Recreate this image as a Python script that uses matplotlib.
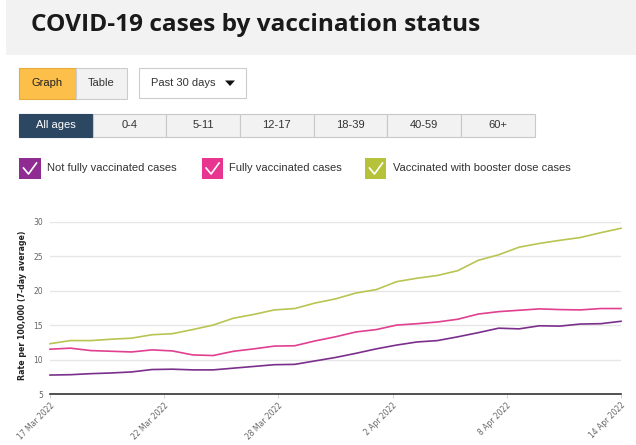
import matplotlib
matplotlib.use("Agg")
import matplotlib.pyplot as plt
from matplotlib.patches import Rectangle, Polygon
from matplotlib.lines import Line2D
import numpy as np

# ---------------- data ----------------
title = "COVID-19 cases by vaccination status"
series_names = ["Not fully vaccinated cases", "Fully vaccinated cases",
                "Vaccinated with booster dose cases"]
not_fully = [7.75, 7.8, 7.95, 8.05, 8.2, 8.55, 8.6, 8.5, 8.5, 8.75, 9.0, 9.25, 9.3, 9.8,
             10.3, 10.9, 11.55, 12.1, 12.55, 12.75, 13.3, 13.9, 14.55, 14.45, 14.9,
             14.85, 15.15, 15.2, 15.55]
fully = [11.5, 11.65, 11.3, 11.2, 11.1, 11.4, 11.25, 10.67, 10.58, 11.2, 11.55, 11.95,
         12.0, 12.7, 13.3, 14.0, 14.35, 15.0, 15.2, 15.45, 15.85, 16.6, 16.95, 17.15,
         17.35, 17.25, 17.2, 17.4, 17.4]
booster = [12.3, 12.75, 12.75, 12.95, 13.1, 13.6, 13.75, 14.35, 15.0, 16.0, 16.55, 17.2,
           17.4, 18.2, 18.8, 19.65, 20.15, 21.3, 21.8, 22.2, 22.9, 24.4, 25.2, 26.3,
           26.85, 27.3, 27.7, 28.4, 29.05]
days = list(range(29))  # 17 Mar 2022 .. 14 Apr 2022
x_tick_labels = ["17 Mar 2022", "22 Mar 2022", "28 Mar 2022", "2 Apr 2022",
                 "8 Apr 2022", "14 Apr 2022"]
y_ticks = [5, 10, 15, 20, 25, 30]
view_buttons = ["Graph", "Table"]
period_label = "Past 30 days"
age_groups = ["All ages", "0-4", "5-11", "12-17", "18-39", "40-59", "60+"]
colors = ["#7b2f8c", "#e0408f", "#b9c452"]
box_colors = ["#8e2c92", "#e8358f", "#b5c23a"]

# ---------------- figure ----------------
W, H = 636, 445
fig = plt.figure(figsize=(W / 100, H / 100), dpi=100)
fig.patch.set_facecolor("white")
TF = fig.transFigure


def fx(x):
    return x / W


def fy(y):
    return 1 - y / H


def rect(x0, y0, x1, y1, fc, ec="none", lw=0.8):
    fig.patches.append(Rectangle((fx(x0), fy(y1)), fx(x1) - fx(x0), fy(y0) - fy(y1),
                                 transform=TF, facecolor=fc, edgecolor=ec, linewidth=lw))


ui_font = ["Liberation Sans", "DejaVu Sans"]
ui_size = 8.0

# title band
rect(6, 0, 636, 55, "#f2f2f2")
fig.text(fx(31), fy(25), title, fontsize=17.6, fontweight="bold", color="#1a1a1a",
         family=["Open Sans", "DejaVu Sans"], va="center", ha="left")

# view buttons
rect(19, 68, 75.5, 99, "#fcbf49", ec="#e6ab3c")
fig.text(fx(47), fy(83.5), view_buttons[0], fontsize=ui_size, color="#222222",
         family=ui_font, ha="center", va="center")
rect(75.5, 68, 126.5, 99, "#f2f2f2", ec="#cccccc")
fig.text(fx(101), fy(83.5), view_buttons[1], fontsize=ui_size, color="#333333",
         family=ui_font, ha="center", va="center")
rect(139, 68, 245.5, 98, "white", ec="#cccccc")
fig.text(fx(151), fy(83.5), period_label, fontsize=ui_size, color="#333333",
         family=ui_font, ha="left", va="center")
fig.patches.append(Polygon([(fx(225), fy(80.5)), (fx(235), fy(80.5)), (fx(230), fy(86))],
                           closed=True, transform=TF, facecolor="#111111", edgecolor="none"))

# age buttons
edges = [19, 92.5, 166.3, 239.8, 313.6, 387.4, 461.3, 534.7]
for i, lab in enumerate(age_groups):
    if i == 0:
        rect(edges[i], 114, edges[i + 1], 137, "#2c4762", ec="#2c4762")
        tc = "white"
    else:
        rect(edges[i], 114, edges[i + 1], 137, "#f2f2f2", ec="#c8c8c8")
        tc = "#333333"
    fig.text(fx((edges[i] + edges[i + 1]) / 2), fy(125.5), lab, fontsize=ui_size, color=tc,
             family=ui_font, ha="center", va="center")

# legend
leg_box_x = [19, 201.6, 365]
leg_text_x = [46.7, 229, 392.7]
for bx, tx, name, bc in zip(leg_box_x, leg_text_x, series_names, box_colors):
    rect(bx, 158, bx + 21.5, 179, bc)
    fig.lines.append(Line2D([fx(bx + 4.5), fx(bx + 9.5), fx(bx + 17.5)],
                            [fy(168), fy(174), fy(163)], transform=TF, color="white",
                            linewidth=1.2))
    fig.text(fx(tx), fy(168), name, fontsize=ui_size, color="#333333", family=ui_font,
             ha="left", va="center")

# ---------------- chart ----------------
ax = fig.add_axes([fx(50), fy(394), fx(621) - fx(50), fy(221.7) - fy(394)])
for vals, c in zip([not_fully, fully, booster], colors):
    ax.plot(days, vals, color=c, linewidth=1.2, clip_on=False, solid_joinstyle="round")

ax.set_xlim(days[0], days[-1])
ax.set_ylim(5, 30)
ax.set_yticks(y_ticks)
ax.set_yticklabels([str(v) for v in y_ticks], fontsize=5.5, color="#666666")
ax.set_xticks(np.linspace(days[0], days[-1], len(x_tick_labels)))
ax.set_xticklabels(x_tick_labels, rotation=45, ha="right", rotation_mode="anchor",
                   fontsize=5.5, color="#666666")
ax.tick_params(axis="y", length=0, pad=5)
ax.tick_params(axis="x", length=3, width=0.6, color="#cccccc", pad=2)
ax.grid(axis="y", color="#e6e6e6", linewidth=1)
ax.set_axisbelow(True)
for s in ["top", "right", "left"]:
    ax.spines[s].set_visible(False)
ax.spines["bottom"].set_color("#333333")
ax.spines["bottom"].set_linewidth(1.2)
ax.set_facecolor("white")
fig.text(fx(22.5), fy(305), "Rate per 100,000 (7-day average)", rotation=90,
         fontsize=5.7, fontweight="bold", color="#222222", ha="center", va="center")

fig.savefig("out.png", dpi=100)
